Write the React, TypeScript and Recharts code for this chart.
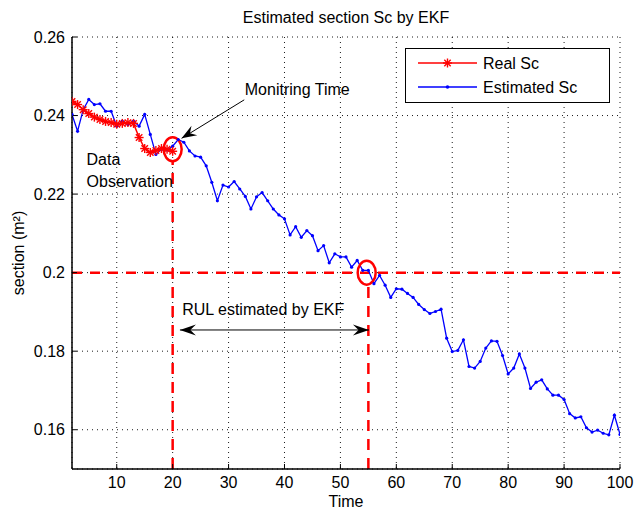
import React from 'react';
import { LineChart, Line, XAxis, YAxis, CartesianGrid, ReferenceLine, ReferenceDot, Legend } from 'recharts';

const time = [
  2, 3, 4, 5, 6, 7, 8, 9, 10, 11, 12, 13, 14, 15, 16, 17, 18, 19, 20, 21,
  22, 23, 24, 25, 26, 27, 28, 29, 30, 31, 32, 33, 34, 35, 36, 37, 38, 39, 40, 41,
  42, 43, 44, 45, 46, 47, 48, 49, 50, 51, 52, 53, 54, 55, 56, 57, 58, 59, 60, 61,
  62, 63, 64, 65, 66, 67, 68, 69, 70, 71, 72, 73, 74, 75, 76, 77, 78, 79, 80, 81,
  82, 83, 84, 85, 86, 87, 88, 89, 90, 91, 92, 93, 94, 95, 96, 97, 98, 99, 100,
];

const estimatedSc = [
  0.2403, 0.2360, 0.2415, 0.2441, 0.2428, 0.2430, 0.2411, 0.2411, 0.2373, 0.2386,
  0.2377, 0.2386, 0.2373, 0.2403, 0.2352, 0.2301, 0.2314, 0.2312, 0.2322, 0.2339,
  0.2332, 0.2310, 0.2297, 0.2294, 0.2272, 0.2230, 0.2183, 0.2223, 0.2218, 0.2232,
  0.2213, 0.2194, 0.2162, 0.2193, 0.2204, 0.2183, 0.2162, 0.2147, 0.2137, 0.2096,
  0.2117, 0.2090, 0.2107, 0.2094, 0.2056, 0.2069, 0.2025, 0.2048, 0.2040, 0.2040,
  0.2014, 0.2031, 0.2006, 0.2006, 0.1972, 0.1993, 0.1968, 0.1937, 0.1959, 0.1958,
  0.1947, 0.1937, 0.1919, 0.1906, 0.1896, 0.1901, 0.1907, 0.1833, 0.1799, 0.1802,
  0.1829, 0.1761, 0.1757, 0.1774, 0.1808, 0.1826, 0.1825, 0.1789, 0.1742, 0.1757,
  0.1793, 0.1757, 0.1705, 0.1721, 0.1727, 0.1704, 0.1688, 0.1688, 0.1677, 0.1641,
  0.1630, 0.1633, 0.1605, 0.1594, 0.1599, 0.1591, 0.1587, 0.1637, 0.1588,
];

const realSc = [
  0.2436, 0.2428, 0.2415, 0.2405, 0.2396, 0.2390, 0.2385, 0.2382, 0.2378, 0.2380,
  0.2382, 0.2380, 0.2344, 0.2316, 0.2306, 0.2311, 0.2316, 0.2314, 0.2309,
];

const xTicks = [10, 20, 30, 40, 50, 60, 70, 80, 90, 100];
const yTicks = [0.16, 0.18, 0.2, 0.22, 0.24, 0.26];
const xDomain = [2, 100];
const yDomain = [0.15, 0.26];

const monitoringTime = 20;
const monitoringValue = 0.2314;
const rulTime = 55;
const threshold = 0.2;

const data = time.map((t, i) => ({
  t,
  est: estimatedSc[i],
  real: i < realSc.length ? realSc[i] : undefined,
}));

const FONT = '"Liberation Sans", Arial, Helvetica, sans-serif';
const RED = '#ff0000';
const BLUE = '#0000ff';

const Asterisk = (props: any) => {
  const { cx, cy, index } = props;
  if (cx == null || cy == null || props.value == null) return <g key={index} />;
  const r = 4.5;
  const d = r * 0.72;
  return (
    <g key={index} stroke={RED} strokeWidth={1.4}>
      <line x1={cx - r} y1={cy} x2={cx + r} y2={cy} />
      <line x1={cx} y1={cy - r} x2={cx} y2={cy + r} />
      <line x1={cx - d} y1={cy - d} x2={cx + d} y2={cy + d} />
      <line x1={cx - d} y1={cy + d} x2={cx + d} y2={cy - d} />
    </g>
  );
};

const SmallDot = (props: any) => {
  const { cx, cy, index } = props;
  if (cx == null || cy == null) return <g key={index} />;
  return <circle key={index} cx={cx} cy={cy} r={1.6} fill={BLUE} stroke="none" />;
};

function head(x1: number, y1: number, x2: number, y2: number, len = 14, w = 10) {
  const a = Math.atan2(y2 - y1, x2 - x1);
  const c = Math.cos(a);
  const s = Math.sin(a);
  const bx = x2 - len * c;
  const by = y2 - len * s;
  const nx = x2 - len * 0.65 * c;
  const ny = y2 - len * 0.65 * s;
  const px = -s * (w / 2);
  const py = c * (w / 2);
  return `${x2},${y2} ${bx + px},${by + py} ${nx},${ny} ${bx - px},${by - py}`;
}

const SingleArrow = (props: any) => {
  const { x1, y1, x2, y2 } = props;
  return (
    <g>
      <line x1={x1} y1={y1} x2={x2} y2={y2} stroke="#000" strokeWidth={1} />
      <polygon points={head(x1, y1, x2, y2, 15, 11)} fill="#000" />
    </g>
  );
};

const DoubleArrow = (props: any) => {
  const { x1, y1, x2, y2 } = props;
  return (
    <g>
      <line x1={x1} y1={y1} x2={x2} y2={y2} stroke="#000" strokeWidth={1} />
      <polygon points={head(x1, y1, x2, y2, 16, 11)} fill="#000" />
      <polygon points={head(x2, y2, x1, y1, 16, 11)} fill="#000" />
    </g>
  );
};

const makeEllipse = (rx: number, ry: number) => (p: any) => (
  <ellipse cx={p.cx} cy={p.cy} rx={rx} ry={ry} fill="none" stroke={RED} strokeWidth={2.5} />
);

const makeText = (txt: string) => (p: any) => (
  <text x={p.cx} y={p.cy} fontFamily={FONT} fontSize={16} fill="#000" dominantBaseline="central">
    {txt}
  </text>
);

const LegendBox = () => (
  <svg width={205} height={55} style={{ display: 'block' }}>
    <rect x={0.5} y={0.5} width={204} height={54} fill="#fff" stroke="#000" strokeWidth={1} />
    <line x1={13} y1={15} x2={72} y2={15} stroke={RED} strokeWidth={1.5} />
    <g stroke={RED} strokeWidth={1.4}>
      <line x1={38} y1={15} x2={47} y2={15} />
      <line x1={42.5} y1={10.5} x2={42.5} y2={19.5} />
      <line x1={39.3} y1={11.8} x2={45.7} y2={18.2} />
      <line x1={39.3} y1={18.2} x2={45.7} y2={11.8} />
    </g>
    <text x={78} y={15} fontFamily={FONT} fontSize={16} dominantBaseline="central">Real Sc</text>
    <line x1={13} y1={39} x2={72} y2={39} stroke={BLUE} strokeWidth={1.3} />
    <circle cx={42.5} cy={39} r={1.8} fill={BLUE} />
    <text x={78} y={39} fontFamily={FONT} fontSize={16} dominantBaseline="central">Estimated Sc</text>
  </svg>
);

const tickStyle = { fontFamily: FONT, fontSize: 16, fill: '#000' };
const fmtY = (v: number) => String(Number(v.toFixed(2)));

export default function App() {
  return (
    <div style={{ position: 'absolute', left: 0, top: 0, width: 635, height: 512, background: '#fff' }}>
      <LineChart width={635} height={512} data={data} margin={{ top: 37, right: 15, bottom: 0, left: 0 }}>
        <CartesianGrid stroke="#000" strokeDasharray="1 4" strokeWidth={0.9} />
        <XAxis
          dataKey="t"
          type="number"
          domain={xDomain}
          ticks={xTicks}
          allowDataOverflow
          height={43}
          tickSize={-5}
          tickMargin={13}
          tick={tickStyle}
          axisLine={{ stroke: '#000', strokeWidth: 1.5 }}
          tickLine={{ stroke: '#000' }}
        />
        <XAxis
          xAxisId="top"
          orientation="top"
          dataKey="t"
          type="number"
          domain={xDomain}
          ticks={xTicks}
          allowDataOverflow
          height={0}
          tickSize={-5}
          tick={false}
          axisLine={{ stroke: '#000', strokeWidth: 1.5 }}
          tickLine={{ stroke: '#000' }}
        />
        <YAxis
          type="number"
          domain={yDomain}
          ticks={yTicks}
          allowDataOverflow
          width={72}
          tickSize={-5}
          tickMargin={12}
          tick={tickStyle}
          tickFormatter={fmtY}
          axisLine={{ stroke: '#000', strokeWidth: 1.5 }}
          tickLine={{ stroke: '#000' }}
        />
        <YAxis
          yAxisId="right"
          orientation="right"
          type="number"
          domain={yDomain}
          ticks={yTicks}
          allowDataOverflow
          width={0}
          tickSize={-5}
          tick={false}
          axisLine={{ stroke: '#000', strokeWidth: 1.5 }}
          tickLine={{ stroke: '#000' }}
        />

        <ReferenceLine y={threshold} stroke={RED} strokeWidth={2.5} strokeDasharray="10 8" />
        <ReferenceLine
          segment={[{ x: monitoringTime, y: 0.15 }, { x: monitoringTime, y: 0.2285 }]}
          stroke={RED}
          strokeWidth={2.5}
          strokeDasharray="11 8"
        />
        <ReferenceLine
          segment={[{ x: rulTime, y: 0.15 }, { x: rulTime, y: 0.198 }]}
          stroke={RED}
          strokeWidth={2.5}
          strokeDasharray="11 8"
        />

        <Line
          type="linear"
          dataKey="est"
          stroke={BLUE}
          strokeWidth={1.3}
          dot={SmallDot}
          activeDot={false}
          isAnimationActive={false}
        />
        <Line
          type="linear"
          dataKey="real"
          stroke={RED}
          strokeWidth={1.5}
          dot={Asterisk}
          activeDot={false}
          connectNulls={false}
          isAnimationActive={false}
        />

        <ReferenceDot x={monitoringTime} y={monitoringValue} shape={makeEllipse(9, 12)} />
        <ReferenceDot x={54.7} y={threshold} shape={makeEllipse(9, 12)} />

        <ReferenceLine
          segment={[{ x: 32.8, y: 0.244 }, { x: 21.6, y: 0.2342 }]}
          shape={SingleArrow}
        />
        <ReferenceLine
          segment={[{ x: 21.3, y: 0.1854 }, { x: 55.1, y: 0.1854 }]}
          shape={DoubleArrow}
        />

        <ReferenceDot x={32.9} y={0.2466} shape={makeText('Monitring Time')} />
        <ReferenceDot x={4.6} y={0.2289} shape={makeText('Data')} />
        <ReferenceDot x={4.6} y={0.2231} shape={makeText('Observation')} />
        <ReferenceDot x={21.7} y={0.1906} shape={makeText('RUL estimated by EKF')} />

        <Legend
          layout="vertical"
          align="center"
          verticalAlign="middle"
          content={() => <LegendBox />}
          wrapperStyle={{ position: 'absolute', left: 405, top: 48, width: 205, height: 55 }}
        />

        <text x={346} y={17} textAnchor="middle" dominantBaseline="central" fontFamily={FONT} fontSize={16} fill="#000">
          Estimated section Sc by EKF
        </text>
        <text x={346} y={501} textAnchor="middle" dominantBaseline="central" fontFamily={FONT} fontSize={16} fill="#000">
          Time
        </text>
        <text
          x={18}
          y={253}
          textAnchor="middle"
          dominantBaseline="central"
          fontFamily={FONT}
          fontSize={16}
          fill="#000"
          transform="rotate(-90 18 253)"
        >
          section (m²)
        </text>
      </LineChart>
    </div>
  );
}
